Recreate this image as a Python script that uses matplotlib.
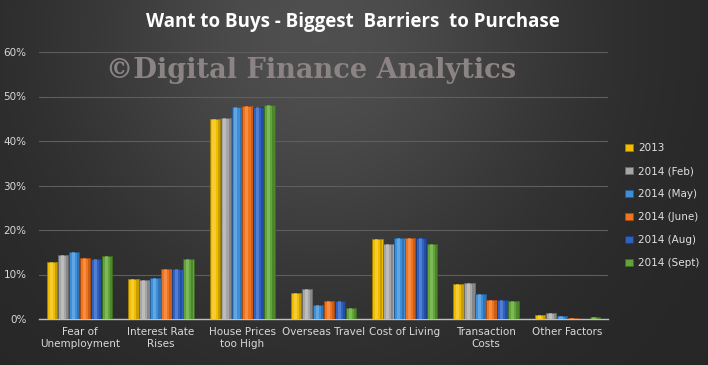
import numpy as np
import matplotlib
matplotlib.use("Agg")
import matplotlib.pyplot as plt

categories = ["Fear of\nUnemployment", "Interest Rate\nRises", "House Prices\ntoo High",
              "Overseas Travel", "Cost of Living", "Transaction\nCosts", "Other Factors"]
series_names = ["2013", "2014 (Feb)", "2014 (May)", "2014 (June)", "2014 (Aug)", "2014 (Sept)"]
v2013 = [12.8, 9.0, 44.9, 5.8, 18.0, 7.9, 0.9]
v2014_feb = [14.4, 8.8, 45.1, 6.7, 16.9, 8.1, 1.3]
v2014_may = [15.1, 9.2, 47.6, 3.1, 18.2, 5.6, 0.7]
v2014_june = [13.7, 11.2, 47.9, 4.0, 18.2, 4.3, 0.2]
v2014_aug = [13.4, 11.2, 47.6, 4.0, 18.2, 4.3, 0.1]
v2014_sept = [14.1, 13.5, 48.1, 2.5, 16.9, 4.0, 0.4]
yticks = [0, 10, 20, 30, 40, 50, 60]

series = [v2013, v2014_feb, v2014_may, v2014_june, v2014_aug, v2014_sept]
colors = ["#f0bd00", "#a6a6a6", "#3f8fd8", "#ee7420", "#2f62c0", "#62a33a"]
dark = ["#a07e00", "#6a6a6a", "#1f5a98", "#a84a10", "#1a3c80", "#3c6a20"]
light = ["#ffe070", "#d8d8d8", "#8cc4f0", "#ffae70", "#7ea2e8", "#a2d680"]

W, H = 708, 365
fig = plt.figure(figsize=(W / 100, H / 100), dpi=100)

# background radial gradient
bg = fig.add_axes([0, 0, 1, 1], zorder=-10)
yy, xx = np.mgrid[0:H, 0:W]
d2 = ((xx - W * 0.45) / (W * 0.55)) ** 2 + ((yy - H * 0.1) / (H * 1.1)) ** 2
shade = 0.15 + 0.16 * np.exp(-2.5 * d2)
img = np.dstack([shade, shade, shade])
bg.imshow(img, aspect="auto", extent=[0, 1, 0, 1])
bg.set_axis_off()

ax = fig.add_axes([39 / W, 1 - 319 / H, (608 - 39) / W, (319 - 52) / H])
ax.set_facecolor("none")
n = len(categories)
x = np.arange(n)
step = 0.135
bw = 0.128
for i, (vals, c) in enumerate(zip(series, colors)):
    pos = x + (i - 2.5) * step
    ax.bar(pos, vals, width=bw, color=c, edgecolor=dark[i], linewidth=0.6, zorder=3,
           label=series_names[i])
    ax.bar(pos - bw * 0.08, vals, width=bw * 0.3, color=light[i], alpha=0.45,
           linewidth=0, zorder=4)
    ax.bar(pos + bw * 0.38, vals, width=bw * 0.22, color=dark[i], alpha=0.5,
           linewidth=0, zorder=4)

ax.set_xlim(-0.5, n - 0.5)
ax.set_ylim(0, 60)
ax.set_yticks(yticks)
ax.set_yticklabels([f"{t}%" for t in yticks])
ax.set_xticks(x)
ax.set_xticklabels(categories)
ax.tick_params(axis="both", length=0, colors="#d9d9d9", labelsize=7.5)
ax.tick_params(axis="y", pad=9)
ax.tick_params(axis="x", pad=6)
ax.grid(axis="y", color="#5e5e5e", linewidth=0.8, zorder=0)
for s in ["top", "right", "left"]:
    ax.spines[s].set_visible(False)
ax.spines["bottom"].set_color("#bfbfbf")
ax.spines["bottom"].set_linewidth(1.0)

handles, labels = ax.get_legend_handles_labels()
leg = fig.legend(handles, labels, loc="upper left", bbox_to_anchor=(616 / W, 1 - 134 / H),
                 frameon=False, fontsize=7.5, labelcolor="#e0e0e0", handlelength=0.7,
                 handleheight=0.7, handletextpad=0.5, labelspacing=1.25)

fig.text(353 / W, 1 - 22 / H, "Want to Buys - Biggest  Barriers  to Purchase",
         ha="center", va="center", color="white", fontsize=13.5, fontweight="bold",
         fontfamily="Open Sans")
fig.text(311 / W, 1 - 78 / H, "\u00a9Digital Finance Analytics", ha="center", va="baseline",
         color="#8c8484", fontsize=19.6, fontweight="bold", fontfamily="DejaVu Serif", zorder=5)

fig.savefig("out.png", dpi=100)
